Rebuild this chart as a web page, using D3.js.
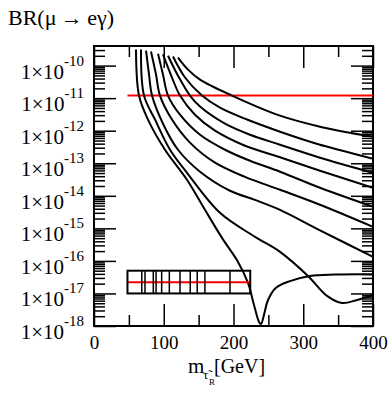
<!DOCTYPE html>
<html><head><meta charset="utf-8">
<script src="https://cdn.jsdelivr.net/npm/d3@7"></script>
<style>body{margin:0;background:#fff}svg{display:block}</style>
</head><body><svg id="c" width="392" height="398"></svg>
<script>
// ---- data ----
const massMajorTicks=[0,100,200,300,400];
const massMinorTicks=[50,150,250,350];
const brDecades=[-10,-11,-12,-13,-14,-15,-16,-17,-18];
const megBound=1.2e-11;
const megMass=[48,400];
// curves: [stau mass (GeV), BR]
const curveA=[[60.2,3.1e-10],[64.5,1.2e-11],[77.4,2.2e-12],[101.8,2.6e-13],[133.3,3.1e-14],[159.1,3.7e-15],[183.5,5.1e-16],[206.5,9.3e-17],[220.8,2.1e-17],[229.4,4.4e-18],[236.6,1.33e-18],[239.4,1.15e-18],[243.7,2.2e-18],[249.5,6.3e-18],[260.9,1.5e-17],[281.0,2.4e-17],[309.7,3.45e-17],[345.5,3.8e-17],[400,3.85e-17]];
const curveB=[[67.4,3.1e-10],[71.7,1.2e-11],[87.5,2.2e-12],[109.0,2.6e-13],[133.3,5.1e-14],[180.6,3.0e-15],[230.8,5.5e-16],[266.7,1.9e-16],[306.8,3.45e-17],[334.1,8.4e-18],[355.6,5.1e-18],[377.1,6.3e-18],[400,9.0e-18]];
const curveC=[[74.6,2.9e-10],[78.9,5.3e-11],[83.2,1.2e-11],[98.9,1.64e-12],[120.4,2.6e-13],[152.0,5.5e-14],[195.0,1.43e-14],[230.8,7.5e-15],[266.7,3.7e-15],[319.7,9.7e-16],[400,1.33e-16]];
const curveD=[[81.7,2.7e-10],[88.9,5.3e-11],[94.6,1.2e-11],[111.8,2.2e-12],[137.6,4.3e-13],[173.5,1.04e-13],[216.5,3.8e-14],[266.7,1.53e-14],[324.0,5.3e-15],[400,1.11e-15]];
const curveE=[[91.8,2.3e-10],[98.9,5.3e-11],[106.1,1.2e-11],[123.3,3.1e-12],[152.0,7.5e-13],[187.8,2.6e-13],[223.7,1.19e-13],[266.7,5.5e-14],[324.0,1.76e-14],[400,4.6e-15]];
const curveF=[[98.9,2.2e-10],[111.8,4.3e-11],[123.3,1.2e-11],[144.8,3.1e-12],[173.5,1.0e-12],[216.5,3.45e-13],[266.7,1.53e-13],[324.0,5.9e-14],[400,1.76e-14]];
const curveG=[[106.1,2.0e-10],[120.4,4.9e-11],[137.6,1.2e-11],[152.0,5.5e-12],[187.8,1.64e-12],[223.7,7.5e-13],[266.7,3.7e-13],[324.0,1.48e-13],[400,5.1e-14]];
const curveH=[[113.3,1.9e-10],[130.5,4.3e-11],[154.8,1.2e-11],[180.6,5.1e-12],[219.4,2.2e-12],[266.7,9.3e-13],[324.0,3.7e-13],[400,1.37e-13]];
const curveI=[[120.4,1.76e-10],[134.8,7.5e-11],[152.0,3.7e-11],[197.8,1.2e-11],[266.7,2.9e-12],[324.0,1.33e-12],[400,6.5e-13]];
const curves=[curveA,curveB,curveC,curveD,curveE,curveF,curveG,curveH,curveI];
// lower box
const boxMass=[48,224];
const boxBR=[1e-17,5e-17];
const boxLineBR=2.2e-17;
const boxMarks=[68.5,73.1,85,89,97,108,123.3,138,148,159,195];

// ---- drawing ----
const L=94,R=373,T=46,B=326;
const FONT='"Liberation Serif","Times New Roman",serif';
const x=d3.scaleLinear().domain([0,400]).range([L,R]);
const y=d3.scaleLog().domain([1e-18,4e-10]).range([B,T]);
const svg=d3.select('#c');

svg.append('defs').append('clipPath').attr('id','clip')
  .append('rect').attr('x',L).attr('y',T).attr('width',R-L).attr('height',B-T);

const yMinor=[];
for(let d=-18;d<=-10;d++){for(let k=2;k<=9;k++){const v=k*Math.pow(10,d);if(v<4e-10)yMinor.push(v);}}
const yMajor=brDecades.map(d=>Math.pow(10,d));

function styleAxis(g){g.select('.domain').remove();g.selectAll('line').attr('stroke','#000').attr('stroke-width',1.5);}

svg.append('g').attr('transform',`translate(0,${B})`)
  .call(d3.axisBottom(x).tickValues(massMajorTicks).tickSize(-22).tickPadding(10).tickSizeOuter(0))
  .call(styleAxis)
  .call(g=>g.selectAll('text').attr('font-family',FONT).attr('font-size',19).attr('fill','#000'));
svg.append('g').attr('transform',`translate(0,${B})`)
  .call(d3.axisBottom(x).tickValues(massMinorTicks).tickSize(-11).tickFormat('').tickSizeOuter(0)).call(styleAxis);
svg.append('g').attr('transform',`translate(0,${T})`)
  .call(d3.axisTop(x).tickValues(massMajorTicks).tickSize(-22).tickFormat('').tickSizeOuter(0)).call(styleAxis);
svg.append('g').attr('transform',`translate(0,${T})`)
  .call(d3.axisTop(x).tickValues(massMinorTicks).tickSize(-11).tickFormat('').tickSizeOuter(0)).call(styleAxis);

const yl=svg.append('g').attr('transform',`translate(${L},0)`)
  .call(d3.axisLeft(y).tickValues(yMajor).tickSize(-22).tickFormat('').tickSizeOuter(0)).call(styleAxis);
svg.append('g').attr('transform',`translate(${L},0)`)
  .call(d3.axisLeft(y).tickValues(yMinor).tickSize(-11).tickFormat('').tickSizeOuter(0)).call(styleAxis);
svg.append('g').attr('transform',`translate(${R},0)`)
  .call(d3.axisRight(y).tickValues(yMajor).tickSize(-22).tickFormat('').tickSizeOuter(0)).call(styleAxis);
svg.append('g').attr('transform',`translate(${R},0)`)
  .call(d3.axisRight(y).tickValues(yMinor).tickSize(-11).tickFormat('').tickSizeOuter(0)).call(styleAxis);

yl.selectAll('.tick').each(function(v){
  const e=Math.round(Math.log10(v));
  const t=d3.select(this).append('text').attr('x',-10).attr('y',12.5)
    .attr('text-anchor','end').attr('font-family',FONT).attr('fill','#000');
  t.append('tspan').attr('font-size',21).text('1\u00d710');
  t.append('tspan').attr('font-size',15).attr('dy',-13).text(String(e));
});

svg.append('rect').attr('x',L).attr('y',T).attr('width',R-L).attr('height',B-T)
  .attr('fill','none').attr('stroke','#000').attr('stroke-width',2);

const plot=svg.append('g').attr('clip-path','url(#clip)');

plot.append('line').attr('x1',x(megMass[0])).attr('x2',x(megMass[1]))
  .attr('y1',y(megBound)).attr('y2',y(megBound)).attr('stroke','#ff0000').attr('stroke-width',2);

const line=d3.line().x(d=>x(d[0])).y(d=>y(d[1])).curve(d3.curveCatmullRom.alpha(0.5));
plot.selectAll('path.cv').data(curves).join('path').attr('class','cv')
  .attr('d',line).attr('fill','none').attr('stroke','#000').attr('stroke-width',2);

const bx=plot.append('g');
bx.append('line').attr('x1',x(boxMass[0])).attr('x2',x(boxMass[1]))
  .attr('y1',y(boxLineBR)).attr('y2',y(boxLineBR)).attr('stroke','#ff0000').attr('stroke-width',2);
bx.selectAll('line.bm').data(boxMarks).join('line').attr('class','bm')
  .attr('x1',d=>x(d)).attr('x2',d=>x(d)).attr('y1',y(boxBR[0])).attr('y2',y(boxBR[1]))
  .attr('stroke','#000').attr('stroke-width',1.5);
bx.append('rect').attr('x',x(boxMass[0])).attr('y',y(boxBR[1]))
  .attr('width',x(boxMass[1])-x(boxMass[0])).attr('height',y(boxBR[0])-y(boxBR[1]))
  .attr('fill','none').attr('stroke','#000').attr('stroke-width',2);

svg.append('text').attr('x',8).attr('y',25).attr('font-family',FONT).attr('font-size',22)
  .attr('fill','#000').text('BR(\u03bc\u2009\u2192\u2009e\u03b3)');
const xt=svg.append('g').attr('font-family',FONT).attr('fill','#000');
xt.append('text').attr('x',188).attr('y',373).attr('font-size',21).text('m');
xt.append('text').attr('x',203).attr('y',379).attr('font-size',13).text('\u03c4\u0303');
xt.append('text').attr('x',209).attr('y',385).attr('font-size',9).text('R');
xt.append('text').attr('x',214).attr('y',373).attr('font-size',20).text('[GeV]');
</script></body></html>
